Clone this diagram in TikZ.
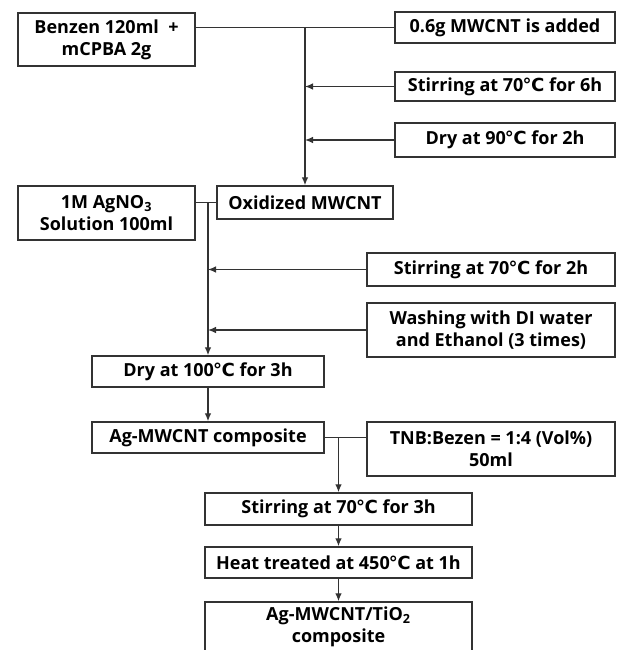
\documentclass[tikz,border=0pt]{standalone}
\usepackage{fontspec}
\setmainfont{Open Sans}
\newfontfamily\symf{DejaVu Sans}
\newcommand\dC{{\symf\kern-0.05em ℃}}
\usetikzlibrary{arrows.meta}
\begin{document}
\begin{tikzpicture}[x=0.75pt,y=-0.75pt,
  box/.style={draw=black!80, line width=1.1pt, align=center, inner sep=0pt,
    font=\bfseries\fontsize{13.5}{16.5}\selectfont},
  conn/.style={draw=black!80, line width=1pt},
  arr/.style={conn, -{Latex[length=6pt,width=5pt]}}]
\useasboundingbox (0,0) rectangle (627,650);
\clip (0,0) rectangle (627,650);
% boxes
\node[box, minimum width=132.75pt, minimum height=39.75pt] (A) at (106.5,39.5) {Benzen 120ml\ \ +\\mCPBA 2g};
\node[box, minimum width=165pt, minimum height=23.25pt] (B) at (505,27.5) {0.6g MWCNT is added};
\node[box, minimum width=165pt, minimum height=21.75pt] (C) at (505,86.5) {Stirring at 70\dC{} for 6h};
\node[box, minimum width=165pt, minimum height=25.5pt] (D) at (505,140) {Dry at 90\dC{} for 2h};
\node[box, minimum width=132pt, minimum height=24.75pt] (F) at (305,202.5) {Oxidized MWCNT};
\node[box, minimum width=132.75pt, minimum height=40.5pt] (E) at (106.5,213) {1M AgNO\textsubscript{3}\\Solution 100ml};
\node[box, minimum width=186pt, minimum height=24.75pt] (G) at (491,269.5) {Stirring at 70\dC{} for 2h};
\node[box, minimum width=186pt, minimum height=40.5pt] (H) at (491,330) {Washing with DI water\\and Ethanol (3 times)};
\node[box, minimum width=174pt, minimum height=23.25pt] (I) at (208,371.5) {Dry at 100\dC{} for 3h};
\node[box, minimum width=174pt, minimum height=23.25pt] (J) at (208,437.5) {Ag-MWCNT composite};
\node[box, minimum width=186pt, minimum height=40.5pt] (K) at (491,449) {TNB:Bezen = 1:4 (Vol\%)\\50ml};
\node[box, minimum width=200.25pt, minimum height=24pt] (L) at (338.5,509) {Stirring at 70\dC{} for 3h};
\node[box, minimum width=200.25pt, minimum height=23.25pt] (M) at (338.5,562.5) {Heat treated at 450\dC{} at 1h};
\node[box, minimum width=200.25pt, minimum height=37.5pt] (N) at (338.5,627) {Ag-MWCNT/TiO\textsubscript{2}\\composite};
% connectors
\coordinate (j1) at (F.north |- B.west);
\draw[conn] (A.east |- B.west) -- (B.west);
\draw[arr] (j1) -- (F.north);
\draw[arr] (C.west) -- (F.north |- C.west);
\draw[arr] (D.west) -- (F.north |- D.west);
\coordinate (j2) at (I.north |- F.west);
\draw[conn] (E.east |- F.west) -- (F.west);
\draw[arr] (j2) -- (I.north);
\draw[arr] (G.west) -- (I.north |- G.west);
\draw[arr] (H.west) -- (I.north |- H.west);
\draw[arr] (I.south) -- (J.north);
\coordinate (j3) at (L.north |- J.east);
\draw[conn] (J.east) -- (K.west |- J.east);
\draw[arr] (j3) -- (L.north);
\draw[arr] (L.south) -- (M.north);
\draw[arr] (M.south) -- (N.north);
\end{tikzpicture}
\end{document}
